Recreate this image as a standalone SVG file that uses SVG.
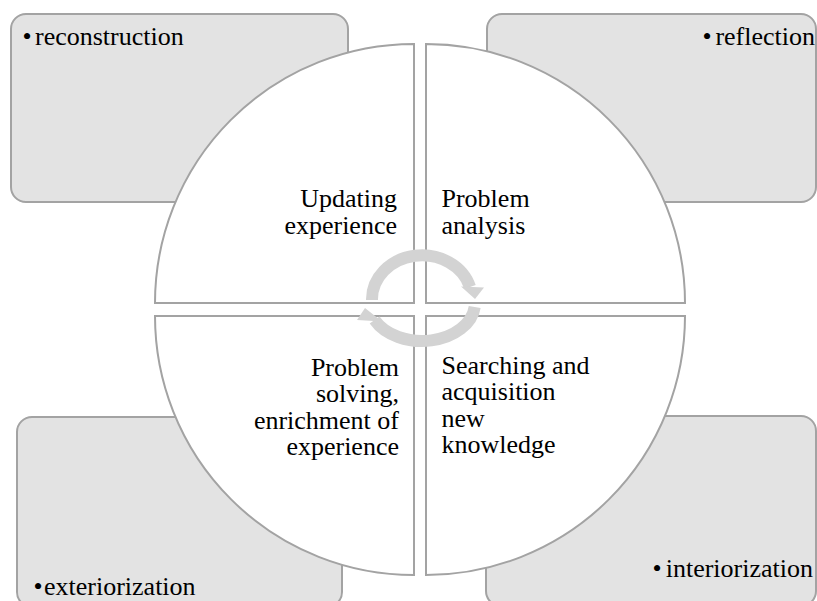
<svg xmlns="http://www.w3.org/2000/svg" width="817" height="601" viewBox="0 0 817 601">
  <style>
    .box { fill: #e3e3e3; stroke: #a3a3a3; stroke-width: 2; }
    .quad { fill: #ffffff; stroke: #a3a3a3; stroke-width: 2; }
    .end { text-anchor: end; }
    .mid { text-anchor: middle; }
    .cyc { fill: none; stroke: #d3d3d3; stroke-width: 12; }
    .head { fill: #d3d3d3; }
  </style>
  <rect width="817" height="601" fill="#ffffff"/>

  <g font-family="'Liberation Serif', 'Times New Roman', serif" font-size="26" fill="#000000">
    <!-- corner boxes -->
    <g id="box-reconstruction">
      <rect class="box" x="11" y="14" width="337" height="188" rx="15"/>
      <text class="mid" x="27" y="45">•</text>
      <text x="35" y="45">reconstruction</text>
    </g>
    <g id="box-reflection">
      <rect class="box" x="487" y="14" width="329" height="188" rx="15"/>
      <text class="mid" x="707" y="45">•</text>
      <text class="end" x="815" y="45">reflection</text>
    </g>
    <g id="box-exteriorization">
      <rect class="box" x="17" y="417" width="325" height="190" rx="15"/>
      <text class="mid" x="38" y="595">•</text>
      <text x="44" y="595">exteriorization</text>
    </g>
    <g id="box-interiorization">
      <rect class="box" x="486" y="416" width="330" height="190" rx="15"/>
      <text class="mid" x="657" y="577">•</text>
      <text class="end" x="813" y="577">interiorization</text>
    </g>

    <!-- circle quadrants -->
    <g id="quad-updating">
      <path class="quad" d="M414,303 L155,303 A259,259 0 0 1 414,44 Z"/>
      <text class="end" x="397" y="206.5">Updating</text>
      <text class="end" x="397" y="233.5">experience</text>
    </g>
    <g id="quad-analysis">
      <path class="quad" d="M426,303 L426,44 A259,259 0 0 1 685,303 Z"/>
      <text x="441.5" y="206.5">Problem</text>
      <text x="441.5" y="233.5">analysis</text>
    </g>
    <g id="quad-solving">
      <path class="quad" d="M414,316 L414,575 A259,259 0 0 1 155,316 Z"/>
      <text class="end" x="399" y="375.5">Problem</text>
      <text class="end" x="399" y="402">solving,</text>
      <text class="end" x="399" y="428.5">enrichment of</text>
      <text class="end" x="399" y="455">experience</text>
    </g>
    <g id="quad-searching">
      <path class="quad" d="M426,316 L685,316 A259,259 0 0 1 426,575 Z"/>
      <text x="441.5" y="373.5">Searching and</text>
      <text x="441.5" y="400">acquisition</text>
      <text x="441.5" y="426.5">new</text>
      <text x="441.5" y="453">knowledge</text>
    </g>
  </g>

  <!-- central cycle arrows -->
  <g id="connectors">
    <path class="cyc" d="M372,300 A50,44 0 0 1 470,287"/>
    <polygon class="head" points="461,286.5 484,287.5 475,299"/>
    <path class="cyc" d="M474.7,307 A53,38 0 0 1 374.6,320"/>
    <polygon class="head" points="357,320 382,321.5 365,308"/>
  </g>
</svg>
